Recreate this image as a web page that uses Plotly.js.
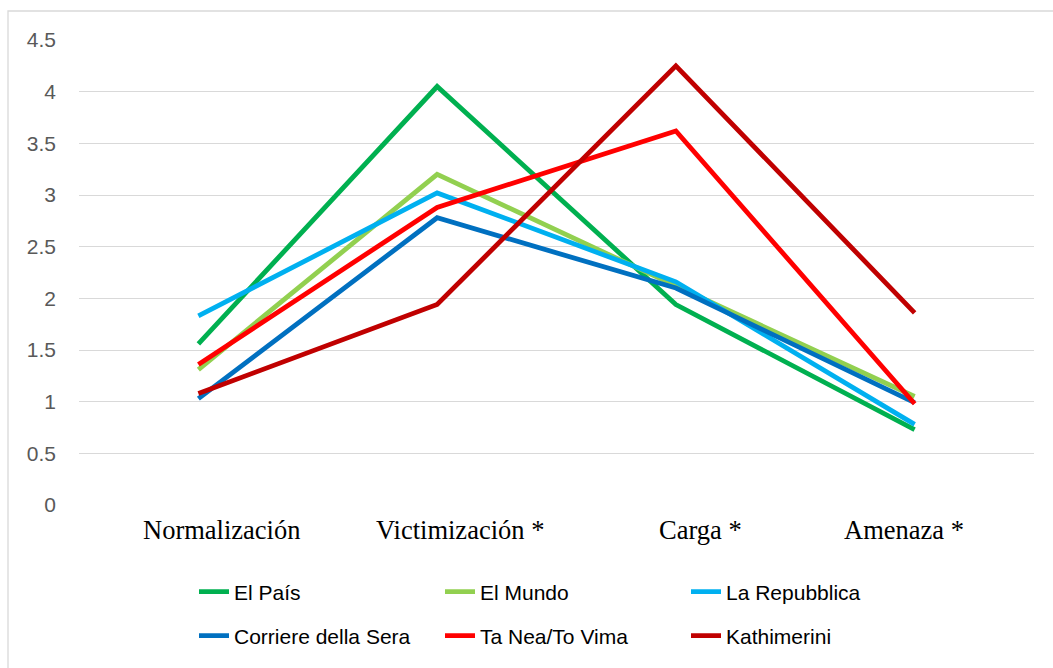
<!DOCTYPE html>
<html>
<head>
<meta charset="utf-8">
<script src="https://cdn.plot.ly/plotly-3.0.1.min.js"></script>
<style>html,body{margin:0;padding:0;background:#fff;}#chart{width:1053px;height:668px;}</style>
</head>
<body>
<div id="chart"></div>
<script>
const categories = ["Normalización", "Victimización *", "Carga *", "Amenaza *"];
const seriesNames = ["El País", "El Mundo", "La Repubblica", "Corriere della Sera", "Ta Nea/To Vima", "Kathimerini"];
const elPais        = [1.56, 4.05, 1.94, 0.73];
const elMundo       = [1.31, 3.20, 2.12, 1.05];
const laRepubblica  = [1.83, 3.02, 2.16, 0.78];
const corriere      = [1.03, 2.78, 2.10, 0.99];
const taNea         = [1.36, 2.88, 3.62, 0.98];
const kathimerini   = [1.08, 1.94, 4.25, 1.86];
const yTicks = [0, 0.5, 1, 1.5, 2, 2.5, 3, 3.5, 4, 4.5];
const yTickLabels = ["0", "0.5", "1", "1.5", "2", "2.5", "3", "3.5", "4", "4.5"];

const values = [elPais, elMundo, laRepubblica, corriere, taNea, kathimerini];
const colors = ["#00B050", "#92D050", "#00B0F0", "#0070C0", "#FF0000", "#C00000"];
const legendIds = ["legend", "legend", "legend", "legend2", "legend2", "legend2"];
// horizontal nudges of the category labels as placed in the original
const labelShifts = [23, 23, 25, -11];

const traces = values.map((v, i) => ({
  type: "scatter",
  mode: "lines",
  x: categories,
  y: v,
  name: seriesNames[i],
  legend: legendIds[i],
  line: {color: colors[i], width: 4.8, shape: "linear"},
  hoverinfo: "x+y+name"
}));

const L = 79, R = 1034, T = 40, B = 505;
const px = x => (x - L) / (R - L);
const py = y => (B - y) / (B - T);

const legendCommon = {
  orientation: "h",
  xanchor: "left",
  yanchor: "middle",
  x: px(194),
  font: {family: "Liberation Sans, Arial, sans-serif", size: 21, color: "#000"},
  entrywidth: 201,
  entrywidthmode: "pixels",
  bgcolor: "rgba(0,0,0,0)",
  traceorder: "normal"
};

const catAnnotations = categories.map((c, i) => ({
  x: c, xref: "x",
  y: 0, yref: "paper",
  yanchor: "top", xanchor: "center",
  yshift: -8, xshift: labelShifts[i],
  text: c, showarrow: false,
  font: {family: "Liberation Serif, Times New Roman, serif", size: 26.5, color: "#000"}
}));

const layout = {
  width: 1053,
  height: 668,
  margin: {l: L, r: 1053 - R, t: T, b: 668 - B},
  paper_bgcolor: "#fff",
  plot_bgcolor: "#fff",
  showlegend: true,
  legend: Object.assign({}, legendCommon, {y: py(592)}),
  legend2: Object.assign({}, legendCommon, {y: py(636)}),
  xaxis: {
    type: "category",
    categoryorder: "array",
    categoryarray: categories,
    range: [-0.5, 3.5],
    showgrid: false,
    zeroline: false,
    showline: false,
    ticks: "",
    showticklabels: false
  },
  yaxis: {
    range: [0, 4.5],
    tickvals: yTicks,
    ticktext: yTickLabels,
    showgrid: true,
    gridcolor: "#D9D9D9",
    gridwidth: 1.3,
    zeroline: false,
    showline: false,
    ticks: "",
    tickfont: {family: "Liberation Sans, Arial, sans-serif", size: 21, color: "#595959"},
    ticklabelstandoff: 22
  },
  annotations: catAnnotations,
  shapes: [{
    type: "path",
    xref: "paper", yref: "paper",
    path: `M ${px(1053)},${py(11)} L ${px(8)},${py(11)} L ${px(8)},${py(668)}`,
    line: {color: "#D9D9D9", width: 1.3}
  }]
};

Plotly.newPlot("chart", traces, layout, {displayModeBar: false, staticPlot: false});
</script>
</body>
</html>
